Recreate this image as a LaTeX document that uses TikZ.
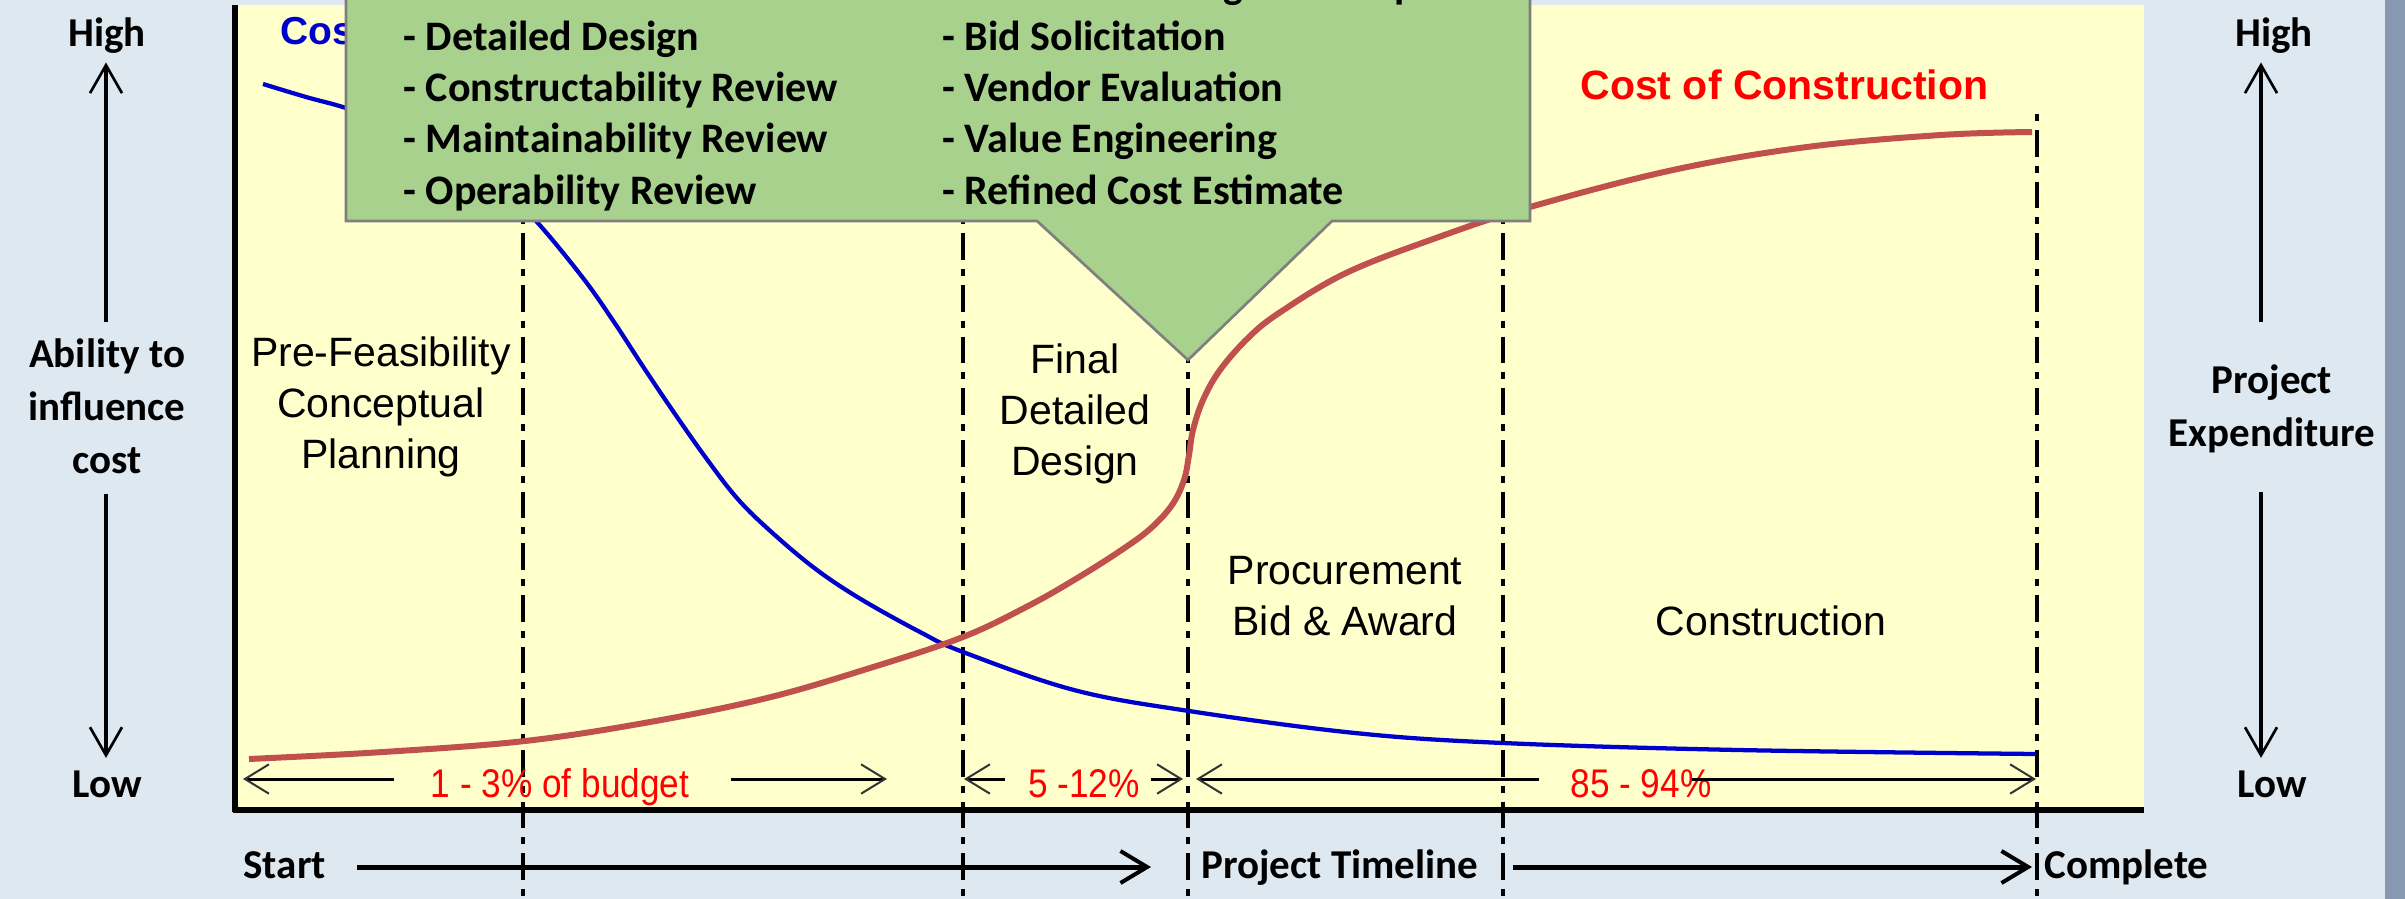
\documentclass[tikz,border=0pt]{standalone}
\usepackage{fontspec}
\setmainfont{Liberation Sans}
\newfontfamily\calibrifont{Carlito}
\newfontfamily\narrowfont{Liberation Sans}[FakeStretch=0.88]
\usetikzlibrary{arrows.meta}

\tikzset{every picture/.style={line width=0.75pt}}
\tikzset{
  phaseline/.style={line width=2.6pt, dash pattern=on 5.25pt off 6.75pt on 20pt off 6.75pt},
  costcurve/.style={line width=4.5pt, draw={rgb, 255:red, 192; green, 80; blue, 77 }},
  influcurve/.style={line width=3.2pt, draw={rgb, 255:red, 0; green, 0; blue, 204 }},
  callout/.style={line width=2pt, draw={rgb, 255:red, 127; green, 127; blue, 127 }, fill={rgb, 255:red, 169; green, 209; blue, 142 }},
  vaxis/.style={line width=3.4pt, -{Straight Barb[length=21pt,width=24pt,line width=2pt]}},
  tline/.style={line width=3.75pt, -{Straight Barb[length=20pt,width=24pt,line width=3pt]}},
  dimarrow/.style={line width=2.25pt, -{Straight Barb[length=18pt,width=22pt,line width=1.5pt,color=black!80]}},
  axislabel/.style={font=\calibrifont\bfseries\fontsize{30.75}{39.5}\selectfont, inner sep=0pt, align=center, anchor=base},
  phaselabel/.style={font=\fontsize{30.75}{38.25}\selectfont, inner sep=0pt, align=center, anchor=base},
  boxtext/.style={font=\calibrifont\bfseries\fontsize{31.5}{38.5}\selectfont, inner sep=0pt, align=left, anchor=base west},
  pctlabel/.style={font=\narrowfont\fontsize{30}{36}\selectfont, text=red, inner sep=0pt, anchor=base},
  curvetitle/.style={font=\bfseries\fontsize{30.75}{37}\selectfont, inner sep=0pt, anchor=base west}
}

\begin{document}
\begin{tikzpicture}[x=0.75pt,y=0.75pt,yscale=-1,xscale=1]
	\useasboundingbox (0,0) rectangle (2405,899);

	%Shape: Rectangle [id:background] 
	\fill[fill={rgb, 255:red, 221; green, 232; blue, 240 }] (0,0) rectangle (2405,899);
	\fill[fill={rgb, 255:red, 135; green, 153; blue, 176 }] (2385,0) rectangle (2405,899);
	%Shape: Rectangle [id:plotarea] 
	\fill[fill={rgb, 255:red, 255; green, 255; blue, 204 }] (235,5) rectangle (2144,810);

	% Text Node
	\draw (280,45) node (costinf) [curvetitle, font=\bfseries\fontsize{29.25}{35}\selectfont, text={rgb, 255:red, 0; green, 0; blue, 204 }] {Cost};

	%Straight Lines [id:phase boundaries] 
	\draw[phaseline] (523,114) -- (523,899);
	\draw[phaseline] (963,114) -- (963,899);
	\draw[phaseline] (1188,114) -- (1188,899);
	\draw[phaseline] (1503,114) -- (1503,899);
	\draw[phaseline] (2037,114) -- (2037,899);

	%Curve Lines [id:ability to influence cost] 
	\draw[influcurve] plot[smooth, tension=0.6] coordinates {(263,84) (306,97) (346,108) (400,127) (450,151) (500,186) (537,222) (583,278) (614,322) (644,368) (675,414) (706,458) (736,497) (767,528) (813,567) (859,598) (920,632) (963,652) (1074,690) (1189,711) (1355,733) (1503,743) (1738,750) (2036,754)};
	%Curve Lines [id:cost of construction] 
	\draw[costcurve] plot[smooth, tension=0.6] coordinates {(249,759) (383,752) (525,741) (650,722) (767,698) (870,668) (963,637) (1030,605) (1079,577) (1120,551) (1150,529) (1172,505) (1184,480) (1189,455) (1193,430) (1203,400) (1220,370) (1248,338) (1279,313) (1346,273) (1436,238) (1530,207) (1673,170) (1807,147) (1941,135) (2032,132)};

	%Shape: Callout [id:activities] 
	\draw[callout] (346,-20) -- (346,221) -- (1037,221) -- (1188,360) -- (1332,221) -- (1530,221) -- (1530,-20) -- cycle;
	% Text Node
	\draw (403,204) node (designlist) [boxtext] {- Construction Documents\\- Detailed Design\\- Constructability Review\\- Maintainability Review\\- Operability Review};
	% Text Node
	\draw (942,204) node (bidlist) [boxtext] {- Contract Package Development\\- Bid Solicitation\\- Vendor Evaluation\\- Value Engineering\\- Refined Cost Estimate};

	% Text Node
	\draw (1580,99) node (costcons) [curvetitle, text=red] {Cost of Construction};
	% Text Node
	\draw (381,468) node (prefeas) [phaselabel] {Pre-Feasibility\\Conceptual\\Planning};
	% Text Node
	\draw (1075,475) node (finaldd) [phaselabel] {Final\\Detailed\\Design};
	% Text Node
	\draw (1345,635) node (procure) [phaselabel] {Procurement\\Bid \& Award};
	% Text Node
	\draw (1771,635) node (constr) [phaselabel] {Construction};

	% Text Node
	\draw (560,797) node (pct1) [pctlabel] {1 - 3\% of budget};
	% Text Node
	\draw (1084,797) node (pct2) [pctlabel] {5 -12\%};
	% Text Node
	\draw (1641,797) node (pct3) [pctlabel] {85 - 94\%};

	\coordinate (p0) at (243,779);
	\coordinate (p1) at (887,779);
	\coordinate (p2) at (964,779);
	\coordinate (p3) at (1183,779);
	\coordinate (p4) at (1196,779);
	\coordinate (p5) at (2036,779);
	%Straight Lines [id:budget shares] 
	\draw[dimarrow, shorten <=27pt] (pct1.west |- p0) -- (p0);
	\draw[dimarrow, shorten <=30.75pt] (pct1.east |- p1) -- (p1);
	\draw[dimarrow, shorten <=17.25pt] (pct2.west |- p2) -- (p2);
	\draw[dimarrow, shorten <=8.25pt] (pct2.east |- p3) -- (p3);
	\draw[dimarrow, shorten <=23.25pt] (pct3.west |- p4) -- (p4);
	\draw[dimarrow, shorten <=-15pt] (pct3.east |- p5) -- (p5);

	% Text Node
	\draw (107,47) node (highL) [axislabel] {High};
	% Text Node
	\draw (107,473) node (abilL) [axislabel] {Ability to\\influence\\cost};
	% Text Node
	\draw (107,797) node (lowL) [axislabel] {Low};
	% Text Node
	\draw (2274,47) node (highR) [axislabel] {High};
	% Text Node
	\draw (2272,446) node (expR) [axislabel] {Project\\Expenditure};
	% Text Node
	\draw (2272,797) node (lowR) [axislabel] {Low};

	\coordinate (lAx) at (106,0);
	\coordinate (rAx) at (2261,0);
	%Straight Lines [id:vertical axes] 
	\draw[vaxis, shorten <=12pt, shorten >=6pt] (abilL.north -| lAx) -- (highL.south -| lAx);
	\draw[vaxis, shorten <=15pt, shorten >=9pt] (abilL.south -| lAx) -- (lowL.north -| lAx);
	\draw[vaxis, shorten <=31.5pt, shorten >=6pt] (expR.north -| rAx) -- (highR.south -| rAx);
	\draw[vaxis, shorten <=29pt, shorten >=9pt] (expR.south -| rAx) -- (lowR.north -| rAx);

	% Text Node
	\draw (243,878) node (start) [axislabel, anchor=base west] {Start};
	% Text Node
	\draw (1201,878) node (timeline) [axislabel, anchor=base west] {Project Timeline};
	% Text Node
	\draw (2044,878) node (complete) [axislabel, anchor=base west] {Complete};

	\coordinate (tlY) at (0,867);
	%Straight Lines [id:timeline] 
	\draw[tline, shorten <=23.25pt, shorten >=37.5pt] (start.east |- tlY) -- (timeline.west |- tlY);
	\draw[tline, shorten <=25.5pt, shorten >=9pt] (timeline.east |- tlY) -- (complete.west |- tlY);

	%Straight Lines [id:plot frame] 
	\draw[line width=4pt] (235,5) -- (235,812);
	\draw[line width=4.5pt] (233,810) -- (2144,810);

\end{tikzpicture}
\end{document}
